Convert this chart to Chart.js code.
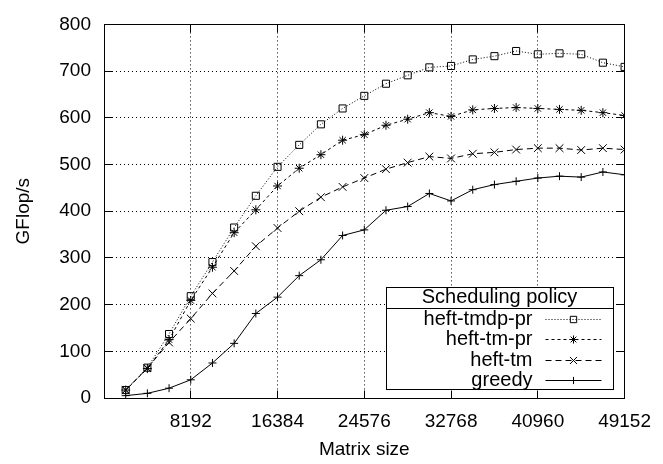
<!DOCTYPE html>
<html>
<head>
<meta charset="utf-8">
<script src="https://cdn.jsdelivr.net/npm/chart.js@4/dist/chart.umd.min.js"></script>
<style>
  html, body { margin: 0; padding: 0; background: #fff; }
  canvas { display: block; }
</style>
</head>
<body>
<canvas id="perfChart" width="663" height="464"></canvas>
<script>
const matrixSizes = [2048, 4096, 6144, 8192, 10240, 12288, 14336, 16384, 18432, 20480, 22528, 24576,
  26624, 28672, 30720, 32768, 34816, 36864, 38912, 40960, 43008, 45056, 47104, 49152];
const heftTmdpPr = [17, 65, 137, 218, 291, 365, 433, 495, 542, 586, 620, 647, 673, 691, 708, 711, 725, 732, 743, 736, 738, 736, 718, 709];
const heftTmPr = [17, 63, 125, 209, 280, 354, 403, 454, 492, 521, 552, 564, 584, 597, 611, 603, 617, 620, 622, 620, 618, 616, 611, 605];
const heftTm = [17, 64, 119, 170, 224, 272, 325, 364, 400, 430, 452, 471, 490, 504, 517, 513, 523, 526, 532, 535, 535, 531, 535, 532];
const greedy = [5, 10, 21, 39, 75, 117, 181, 216, 262, 296, 348, 360, 402, 410, 438, 422, 446, 457, 464, 471, 475, 473, 484, 478];
const xTicks = [8192, 16384, 24576, 32768, 40960, 49152];
const yTicks = [0, 100, 200, 300, 400, 500, 600, 700, 800];

Chart.defaults.font.family = "'Liberation Sans', Arial, sans-serif";
Chart.defaults.font.size = 19;
Chart.defaults.color = '#000';

const toPoints = (ys) => ys.map((y, i) => ({ x: matrixSizes[i], y: y }));

const align = (p) => Math.round(p - 0.5) + 0.5;

// gnuplot-like frame, inner tics and boxed legend
const gnuplotFrame = {
  id: 'gnuplotFrame',
  afterDraw(chart) {
    const { ctx, chartArea: a, scales } = chart;
    const L = align(a.left), R = align(a.right), T = align(a.top), B = align(a.bottom);
    ctx.save();
    ctx.strokeStyle = '#000';
    ctx.lineWidth = 1;
    ctx.setLineDash([]);
    ctx.beginPath();
    scales.y.ticks.forEach(t => {
      const py = align(scales.y.getPixelForValue(t.value));
      ctx.moveTo(L, py); ctx.lineTo(L + 8, py);
      ctx.moveTo(R, py); ctx.lineTo(R - 8, py);
    });
    scales.x.ticks.forEach(t => {
      const px = align(scales.x.getPixelForValue(t.value));
      ctx.moveTo(px, B); ctx.lineTo(px, B - 8);
      ctx.moveTo(px, T); ctx.lineTo(px, T + 8);
    });
    ctx.stroke();
    ctx.strokeRect(L, T, R - L, B - T);

    // legend
    const x0 = Math.round(a.right) - 239 + 0.5;
    const y0 = Math.round(a.bottom) - 111 + 0.5;
    const w = 227, h = 102;
    ctx.fillStyle = '#fff';
    ctx.fillRect(x0, y0, w, h);
    ctx.strokeRect(x0, y0, w, h);
    ctx.beginPath();
    ctx.moveTo(x0, y0 + 21); ctx.lineTo(x0 + w, y0 + 21);
    ctx.stroke();
    ctx.fillStyle = '#000';
    ctx.font = "20px 'Liberation Sans', Arial, sans-serif";
    ctx.textBaseline = 'middle';
    ctx.textAlign = 'center';
    ctx.fillText('Scheduling policy', x0 + 113, y0 + 10);
    chart.data.datasets.forEach((ds, i) => {
      const ry = Math.round(y0 + 31 + i * 20.6) + 0.5;
      ctx.textAlign = 'right';
      ctx.fillStyle = '#000';
      ctx.fillText(ds.label, x0 + 146, ry);
      ctx.save();
      ctx.setLineDash(ds.borderDash || []);
      ctx.beginPath();
      ctx.moveTo(x0 + 159, ry); ctx.lineTo(x0 + 215, ry);
      ctx.stroke();
      ctx.restore();
      ctx.strokeStyle = '#000';
      ctx.fillStyle = 'rgba(0,0,0,0)';
      ctx.lineWidth = 1;
      Chart.helpers.drawPoint(ctx, {
        pointStyle: ds.pointStyle, radius: ds.pointRadius * 0.9, rotation: 0, borderWidth: 1
      }, x0 + 187, ry);
    });
    ctx.restore();
  }
};

const lineSet = (label, values, dash, style, radius) => ({
  label: label,
  data: toPoints(values),
  borderColor: '#000',
  backgroundColor: 'rgba(0,0,0,0)',
  borderWidth: 1,
  borderDash: dash,
  pointStyle: style,
  pointRadius: radius,
  pointHoverRadius: radius,
  pointBorderWidth: 1,
  pointBorderColor: '#000',
  pointBackgroundColor: 'rgba(0,0,0,0)',
  tension: 0,
  fill: false
});

new Chart(document.getElementById('perfChart'), {
  type: 'line',
  data: {
    datasets: [
      lineSet('heft-tmdp-pr', heftTmdpPr, [1, 2], 'rect', 5),
      lineSet('heft-tm-pr', heftTmPr, [3, 3], 'star', 4.5),
      lineSet('heft-tm', heftTm, [6, 4], 'crossRot', 5.5),
      lineSet('greedy', greedy, [], 'cross', 4)
    ]
  },
  options: {
    responsive: false,
    animation: false,
    events: [],
    layout: { padding: { top: 12, right: 33, left: 0, bottom: 0 } },
    plugins: {
      legend: { display: false },
      tooltip: { enabled: false }
    },
    scales: {
      x: {
        type: 'linear',
        min: 0,
        max: 49152,
        afterBuildTicks: (scale) => { scale.ticks = xTicks.map(v => ({ value: v })); },
        afterFit: (scale) => { scale.height = 66; },
        ticks: { padding: 12, maxRotation: 0, autoSkip: false, callback: (v) => String(v) },
        grid: { color: '#000', lineWidth: 1, drawTicks: false },
        border: { display: false, dash: [1, 3] },
        title: { display: true, text: 'Matrix size', padding: { top: 0, bottom: 3 } }
      },
      y: {
        min: 0,
        max: 800,
        afterBuildTicks: (scale) => { scale.ticks = yTicks.map(v => ({ value: v })); },
        afterFit: (scale) => { scale.width = 104; },
        ticks: { padding: 13 },
        grid: { color: '#000', lineWidth: 1, drawTicks: false },
        border: { display: false, dash: [1, 3] },
        title: { display: true, text: 'GFlop/s', padding: { top: 12, bottom: 0 } }
      }
    }
  },
  plugins: [gnuplotFrame]
});
</script>
</body>
</html>
